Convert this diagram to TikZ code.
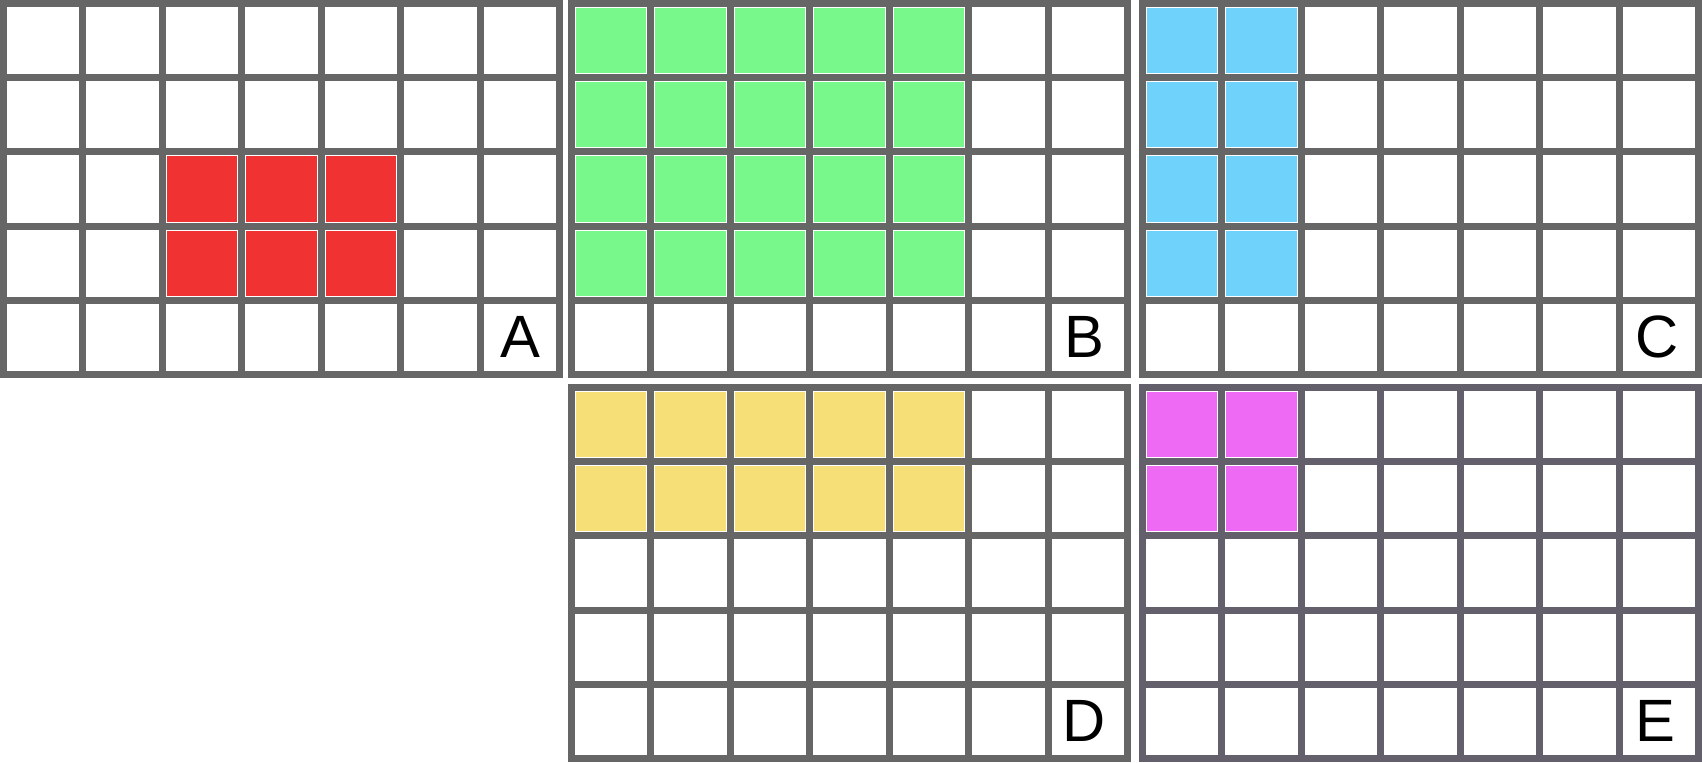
\documentclass[tikz,border=0pt]{standalone}
\usepackage{fontspec}
\setsansfont{Liberation Sans}
\usepackage{xcolor}
\usepackage{tikz}
\definecolor{gridgray}{RGB}{102,102,102}
\definecolor{gridslate}{RGB}{99,96,108}
\definecolor{cellred}{RGB}{240,50,50}
\definecolor{cellgreen}{RGB}{120,248,138}
\definecolor{cellblue}{RGB}{110,210,250}
\definecolor{cellyellow}{RGB}{247,223,120}
\definecolor{cellpink}{RGB}{238,106,245}

% panel of 7x5 cells, origin at top left (px)
\newcommand{\panelgrid}[3]{%
  \foreach \k in {0,...,7} {\draw[gridline, #3] ({#1+3.5+\k*79.43},{#2}) -- ({#1+3.5+\k*79.43},{#2+378});}
  \foreach \k in {0,...,5} {\draw[gridline, #3] ({#1},{#2+3.5+\k*74.2}) -- ({#1+563},{#2+3.5+\k*74.2});}
}
% one coloured cell: origin x, origin y, column, row, colour
\newcommand{\panelcell}[5]{%
  \fill[#5] ({#1+8+#3*79.43},{#2+8+#4*74.2}) rectangle ({#1-1+(#3+1)*79.43},{#2-1+(#4+1)*74.2});
}

\begin{document}
\begin{tikzpicture}[x=0.02cm, y=-0.02cm,
      gridline/.style={line width=0.14cm},
      letter/.style={font=\sffamily\fontsize{34}{36}\selectfont, inner sep=0pt}
    ]
    \useasboundingbox (0,0) rectangle (1702,762);

    % coloured cells
    \foreach \c in {2,3,4} {\foreach \r in {2,3} {\panelcell{0}{0}{\c}{\r}{cellred}}}
    \foreach \c in {0,...,4} {\foreach \r in {0,...,3} {\panelcell{568}{0}{\c}{\r}{cellgreen}}}
    \foreach \c in {0,1} {\foreach \r in {0,...,3} {\panelcell{1139}{0}{\c}{\r}{cellblue}}}
    \foreach \c in {0,...,4} {\foreach \r in {0,1} {\panelcell{568}{384}{\c}{\r}{cellyellow}}}
    \foreach \c in {0,1} {\foreach \r in {0,1} {\panelcell{1139}{384}{\c}{\r}{cellpink}}}

    % grids
    \panelgrid{0}{0}{gridgray}
    \panelgrid{568}{0}{gridgray}
    \panelgrid{1139}{0}{gridgray}
    \panelgrid{568}{384}{gridgray}
    \panelgrid{1139}{384}{gridslate}

    % labels
    \node[letter] (labA) at (520,337) {A};
    \node[letter] (labB) at (1084,337) {B};
    \node[letter] (labC) at (1657,337) {C};
    \node[letter] (labD) at (1084,721) {D};
    \node[letter] (labE) at (1655,721) {E};
  \end{tikzpicture}
\end{document}
